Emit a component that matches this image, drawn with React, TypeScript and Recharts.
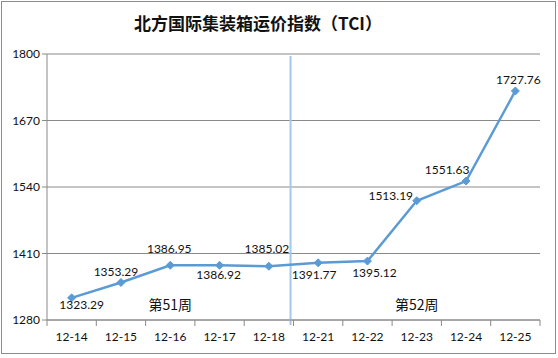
import React from 'react';
import { LineChart, Line, XAxis, YAxis, CartesianGrid, ReferenceLine, ReferenceDot } from 'recharts';

const categories = ['12-14', '12-15', '12-16', '12-17', '12-18', '12-21', '12-22', '12-23', '12-24', '12-25'];
const tciValues = [1323.29, 1353.29, 1386.95, 1386.92, 1385.02, 1391.77, 1395.12, 1513.19, 1551.63, 1727.76];
const yTicks = [1280, 1410, 1540, 1670, 1800];
// label placement relative to each point (style only): [dx, dy of baseline]
const labelOffsets: [number, number][] = [
  [10, 11], [-5, -7], [-1, -12], [-1, 14], [-2, -13],
  [-4, 16], [7, 16], [-26, -1], [-19, -7], [3, -7],
];
const weekNotes = [
  { pos: 2.5, value: 1309, text: '第51周' },
  { pos: 7.5, value: 1309, text: '第52周' },
];
const weekBoundary = 4.94;
const xTicks = categories.map((_, i) => i).concat([categories.length]);

const data = categories.map((c, i) => ({ pos: i + 0.5, cat: c, tci: tciValues[i] }));

const FONT = "Lato, 'Liberation Sans', sans-serif";

const Diamond = (props: any) => {
  const { cx, cy } = props;
  if (cx == null || cy == null) return null;
  const s = 4;
  return <path d={`M${cx},${cy - s}L${cx + s},${cy}L${cx},${cy + s}L${cx - s},${cy}Z`} fill="#5B9BD5" stroke="#5B9BD5" />;
};

const ValueLabel = (props: any) => {
  const { x, y, value, index } = props;
  const [dx, dy] = labelOffsets[index] || [0, -8];
  return (
    <text x={x + dx} y={y + dy} textAnchor="middle" fontSize={12} fontFamily={FONT} fill="#111">
      {value.toFixed(2)}
    </text>
  );
};

const CatTick = (props: any) => {
  const { x, y, payload, width } = props;
  const half = width / categories.length / 2;
  const label = categories[payload.value];
  return (
    <g>
      <line x1={x} y1={y - 10} x2={x} y2={y - 4} stroke="#8a8a8a" />
      {label ? (
        <text x={x + half} y={y + 11} textAnchor="middle" fontSize={12} fontFamily={FONT} fill="#111">{label}</text>
      ) : null}
    </g>
  );
};

export default function App() {
  return (
    <div style={{ position: 'fixed', left: 0, top: 0, width: 558, height: 358, background: '#fff' }}>
      <div style={{ position: 'absolute', left: 1, top: 1, width: 555, height: 353, border: '1px solid #8c8c8c', boxSizing: 'border-box' }} />
      <div style={{ position: 'absolute', left: 0, top: 10, width: 516, textAlign: 'center', fontFamily: "'Noto Sans CJK SC', sans-serif", fontWeight: 'bold', fontSize: 17, color: '#111' }}>
        北方国际集装箱运价指数（TCI）
      </div>
      <LineChart width={558} height={358} data={data} margin={{ top: 54, right: 18, left: 7, bottom: 8 }} style={{ position: 'absolute', left: 0, top: 0 }}>
        <CartesianGrid vertical={false} stroke="#8a8a8a" strokeWidth={1} />
        <XAxis dataKey="pos" type="number" domain={[0, categories.length]} ticks={xTicks} interval={0} tickLine={false} axisLine={{ stroke: '#8a8a8a' }} tickSize={8} tick={<CatTick />} height={30} />
        <YAxis domain={[1280, 1800]} ticks={yTicks} interval={0} width={40} tickLine={{ stroke: '#8a8a8a' }} axisLine={{ stroke: '#8a8a8a' }} tickSize={5} tick={{ fontSize: 12, fill: '#111', fontFamily: FONT }} />
        <ReferenceLine segment={[{ x: weekBoundary, y: 1270 }, { x: weekBoundary, y: 1796 }]} ifOverflow="visible" stroke="#A5C8E8" strokeWidth={2} />
        {weekNotes.map((n) => (
          <ReferenceDot key={n.text} x={n.pos} y={n.value} r={0} stroke="none" fill="none"
            label={{ value: n.text, position: 'center', fontSize: 14, fill: '#111', fontFamily: "'Noto Sans CJK SC', sans-serif" }} />
        ))}
        <Line type="linear" dataKey="tci" stroke="#5B9BD5" strokeWidth={2.5} dot={<Diamond />} activeDot={false} isAnimationActive={false} label={<ValueLabel />} />
      </LineChart>
    </div>
  );
}
